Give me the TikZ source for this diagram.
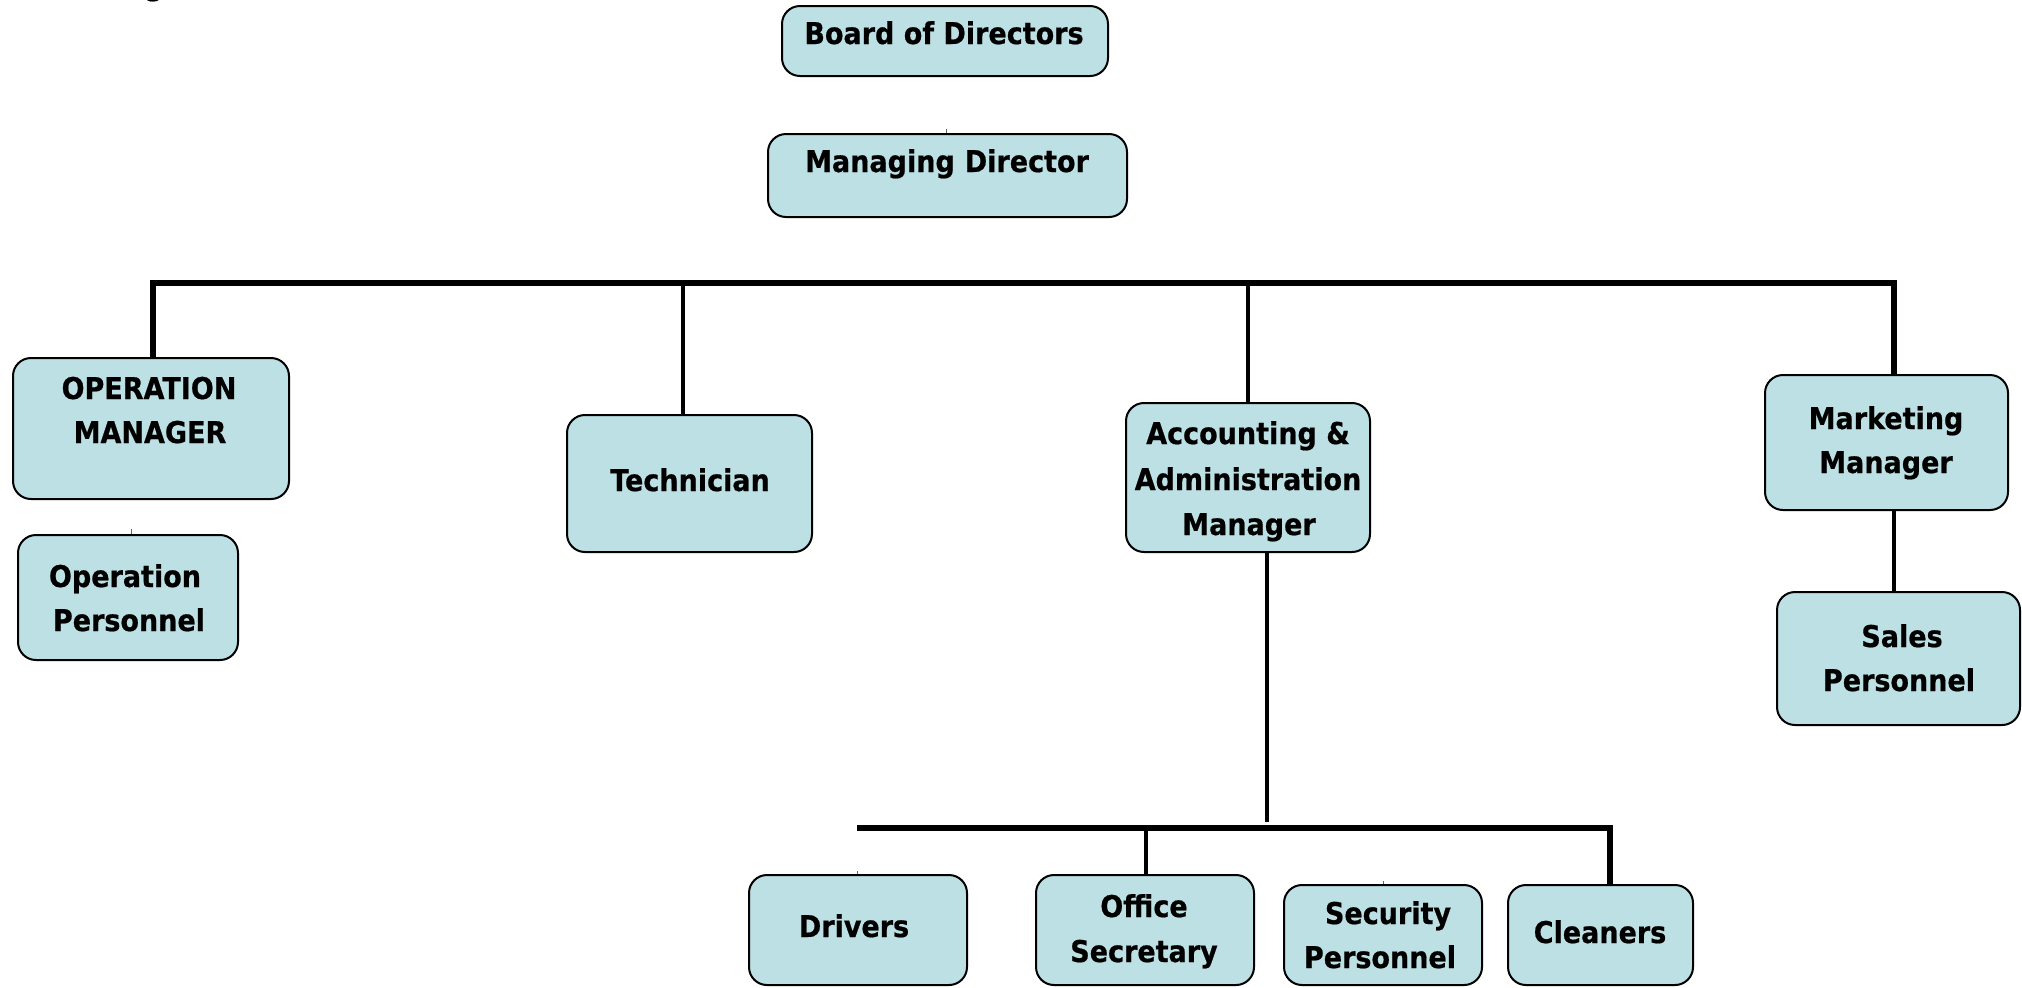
\documentclass[tikz,border=0pt]{standalone}
\usepackage{fontspec}
\setmainfont{DejaVu Sans}[FakeStretch=0.9,FakeBold=0.6]
\definecolor{boxfill}{RGB}{188,224,227}
\begin{document}
\begin{tikzpicture}[x=0.5pt,y=-0.5pt,
  box/.style={draw=black, line width=1pt, fill=boxfill, rounded corners=9pt, inner sep=0pt},
  lbl/.style={font=\fontsize{15}{22}\selectfont\bfseries, inner sep=0pt, anchor=base},
  bus/.style={line width=2.6pt, line join=miter},
  branch/.style={line width=2.2pt},
  stub/.style={line width=0.4pt, black!60}]
\useasboundingbox (0,0) rectangle (2022,987);
% cut-off title
\node[lbl, anchor=base west] (title) at (108,-5) {Organization Chart};
% boxes
\node[box, minimum width=163pt, minimum height=35pt] (bod) at (945,41) {};
\node[box, minimum width=179.5pt, minimum height=41.5pt] (md) at (947.5,175.5) {};
\node[box, minimum width=138pt, minimum height=70.5pt] (om) at (151,428.5) {};
\node[box, minimum width=110pt, minimum height=62.5pt] (op) at (128,597.5) {};
\node[box, minimum width=122.5pt, minimum height=68.5pt] (tech) at (689.5,483.5) {};
\node[box, minimum width=122pt, minimum height=74.5pt] (acc) at (1248,477.5) {};
\node[box, minimum width=121.5pt, minimum height=67.5pt] (mkt) at (1886.5,442.5) {};
\node[box, minimum width=121.5pt, minimum height=66.5pt] (sales) at (1898.5,658.5) {};
\node[box, minimum width=109pt, minimum height=55pt] (drv) at (858,930) {};
\node[box, minimum width=109pt, minimum height=55pt] (off) at (1145,930) {};
\node[box, minimum width=99pt, minimum height=50pt] (sec) at (1383,935) {};
\node[box, minimum width=92.5pt, minimum height=50pt] (cln) at (1600.5,935) {};
% labels
\node[lbl] (tbod) at (944,44) {Board of Directors};
\node[lbl] (tmd) at (947,172) {Managing\,\,Director};
\node[lbl] (tom1) at (149,399) {OPERATION};
\node[lbl] (tom2) at (150,443) {MANAGER};
\node[lbl] (top1) at (125,587) {Operation};
\node[lbl] (top2) at (129,631) {Personnel};
\node[lbl] (ttech) at (690,491) {Technician};
\node[lbl] (tacc1) at (1248,444) {Accounting \&};
\node[lbl] (tacc2) at (1248,490) {Administration};
\node[lbl] (tacc3) at (1249,535) {Manager};
\node[lbl] (tmkt1) at (1886,429) {Marketing};
\node[lbl] (tmkt2) at (1886,473) {Manager};
\node[lbl] (tsal1) at (1902,647) {Sales};
\node[lbl] (tsal2) at (1899,691) {Personnel};
\node[lbl] (tdrv) at (854,937) {Drivers};
\node[lbl] (toff1) at (1144,917) {Office};
\node[lbl] (toff2) at (1144,962) {Secretary};
\node[lbl] (tsec1) at (1388,924) {Security};
\node[lbl] (tsec2) at (1380,968) {Personnel};
\node[lbl] (tcln) at (1600,943) {Cleaners};
% bus coordinates
\coordinate (busL) at (153,283);
\coordinate (busR) at (1894,283);
\coordinate (busT) at (683,283);
\coordinate (busA) at (1248,283);
\coordinate (accDown) at (1267,822);
\coordinate (lowL) at (857,828);
\coordinate (lowR) at (1610,828);
\coordinate (lowO) at (1146,828);
% connectors
\draw[bus] (om.north -| busL) -- (busL) -- (busR) -- (mkt.north -| busR);
\draw[branch] (busT) -- (tech.north -| busT);
\draw[branch] (busA) -- (acc.north -| busA);
\draw[branch] (acc.south -| accDown) -- (accDown);
\draw[bus] (lowL) -- (lowR) -- (cln.north -| lowR);
\draw[branch] (lowO) -- (off.north -| lowO);
\draw[branch] (mkt.south -| busR) -- (sales.north -| busR);
% tiny stubs
\draw[stub] (md.north -| 946,0) -- ++(0,-4);
\draw[stub] (op.north -| 131,0) -- ++(0,-5);
\draw[stub] (drv.north -| 857,0) -- ++(0,-3);
\draw[stub] (sec.north -| 1383,0) -- ++(0,-3);
\end{tikzpicture}
\end{document}
